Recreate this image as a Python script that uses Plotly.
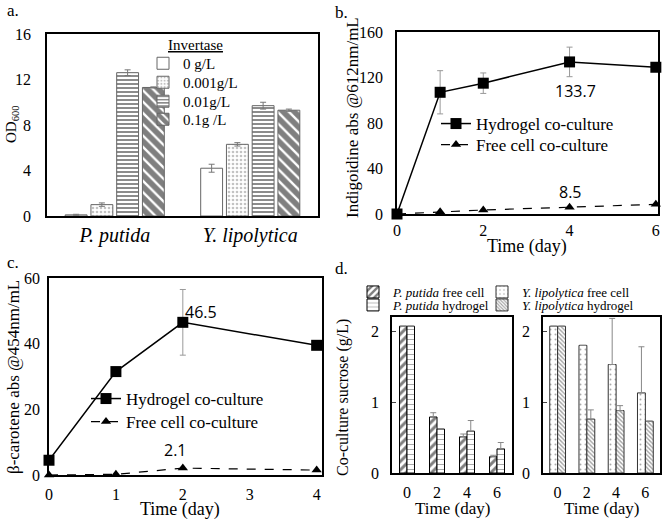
import plotly.graph_objects as go

# panel a: OD600 vs invertase
invertase_levels = ["0 g/L", "0.001g/L", "0.01g/L", "0.1g /L"]
strains = ["<i>P. putida</i>", "<i>Y. lipolytica</i>"]
od600 = [[0.1, 4.2], [1.0, 6.3], [12.6, 9.7], [11.3, 9.3]]
od600_err = [[0.05, 0.35], [0.15, 0.15], [0.25, 0.3], [0.05, 0.1]]

# panel b: indigoidine
days_b = [0, 1, 2, 4, 6]
indigo_gel = [0, 107, 115, 133.7, 129]
indigo_gel_err = [0, 19, 9, 13, 0]
indigo_free = [0, 2, 3.5, 6, 8.5]

# panel c: beta-carotene
days_c = [0, 1, 2, 4]
carotene_gel = [4.5, 31.5, 46.5, 39.5]
carotene_gel_err = [0, 0, 10, 0]
carotene_free = [0, 0.2, 2.1, 1.5]

# panel d: sucrose
days_d = ["0", "2", "4", "6"]
pp_free = [2.07, 0.79, 0.51, 0.23]
pp_free_err = [0, 0.06, 0.04, 0.02]
pp_gel = [2.07, 0.62, 0.59, 0.34]
pp_gel_err = [0, 0, 0.15, 0.09]
yl_free = [2.07, 1.8, 1.53, 1.13]
yl_free_err = [0, 0, 0.65, 0.65]
yl_gel = [2.07, 0.76, 0.88, 0.73]
yl_gel_err = [0, 0.13, 0.07, 0]

SERIF = "Liberation Serif"
SANS = "Open Sans"

W, H = 669, 520


def pxx(a):
    return a / W


def pxy(a):
    return 1 - a / H


def serif(size):
    return dict(family=SERIF, size=size, color="black")


def one_legend(x_px, top_px, size):
    return dict(x=pxx(x_px), y=pxy(top_px), xanchor="left", yanchor="top",
                bgcolor="rgba(0,0,0,0)", font=serif(size), itemwidth=30)


fig = go.Figure()

# ---- a
patterns_a = [
    dict(shape=""),
    dict(shape=".", fgcolor="#888", size=4, solidity=0.35),
    dict(shape="-", fgcolor="black", size=4, solidity=0.45),
    dict(shape="\\", fgcolor="black", size=8, solidity=0.7),
]
legends_a = ["legend", "legend10", "legend11", "legend12"]
for i, lvl in enumerate(invertase_levels):
    fig.add_bar(x=strains, y=od600[i], name=lvl, xaxis="x", yaxis="y", legend=legends_a[i],
                showlegend=True,
                marker=dict(color="white", line=dict(color="#666", width=1), pattern=patterns_a[i]),
                error_y=dict(type="data", array=od600_err[i], color="#777", thickness=1, width=3))

# ---- b
fig.add_scatter(x=days_b, y=indigo_gel, name="Hydrogel co-culture", xaxis="x2", yaxis="y2",
                legend="legend2", mode="lines+markers", cliponaxis=False,
                line=dict(color="black", width=1.5), marker=dict(symbol="square", size=11, color="black"),
                error_y=dict(type="data", array=indigo_gel_err, color="#999", thickness=1, width=3))
fig.add_scatter(x=days_b, y=indigo_free, name="Free cell co-culture", xaxis="x2", yaxis="y2",
                legend="legend3", mode="lines+markers", cliponaxis=False,
                line=dict(color="black", width=1.2, dash="dash"),
                marker=dict(symbol="triangle-up", size=9, color="black"))

# ---- c
fig.add_scatter(x=days_c, y=carotene_gel, name="Hydrogel co-culture", xaxis="x3", yaxis="y3",
                legend="legend4", mode="lines+markers", cliponaxis=False,
                line=dict(color="black", width=1.5), marker=dict(symbol="square", size=11, color="black"),
                error_y=dict(type="data", array=carotene_gel_err, color="#999", thickness=1, width=3))
fig.add_scatter(x=days_c, y=carotene_free, name="Free cell co-culture", xaxis="x3", yaxis="y3",
                legend="legend5", mode="lines+markers", cliponaxis=False,
                line=dict(color="black", width=1.2, dash="dash"),
                marker=dict(symbol="triangle-up", size=9, color="black"))

# ---- d
d_err = dict(type="data", symmetric=False, color="#888", thickness=1, width=3)
fig.add_bar(x=days_d, y=pp_free, name="<i>P. putida</i> free cell", xaxis="x4", yaxis="y4",
            legend="legend6", offset=-0.25, width=0.25,
            marker=dict(color="white", line=dict(color="black", width=1),
                        pattern=dict(shape="/", fgcolor="black", size=6, solidity=0.5)),
            error_y=dict(d_err, array=pp_free_err, arrayminus=[0] * 4))
fig.add_bar(x=days_d, y=pp_gel, name="<i>P. putida</i> hydrogel", xaxis="x4", yaxis="y4",
            legend="legend7", offset=0, width=0.25,
            marker=dict(color="white", line=dict(color="black", width=1),
                        pattern=dict(shape="-", fgcolor="#555", size=5, solidity=0.2)),
            error_y=dict(d_err, array=pp_gel_err, arrayminus=[0] * 4))
fig.add_bar(x=days_d, y=yl_free, name="<i>Y. lipolytica</i> free cell", xaxis="x5", yaxis="y5",
            legend="legend8", offset=-0.27, width=0.27,
            marker=dict(color="white", line=dict(color="#333", width=1),
                        pattern=dict(shape=".", fgcolor="#555", size=5, solidity=0.12)),
            error_y=dict(d_err, array=yl_free_err, arrayminus=[0] * 4))
fig.add_bar(x=days_d, y=yl_gel, name="<i>Y. lipolytica</i> hydrogel", xaxis="x5", yaxis="y5",
            legend="legend9", offset=0, width=0.27,
            marker=dict(color="white", line=dict(color="#333", width=1),
                        pattern=dict(shape="\\", fgcolor="#444", size=3, solidity=0.45)),
            error_y=dict(d_err, array=yl_gel_err, arrayminus=[0] * 4))

box = dict(showline=True, linecolor="black", linewidth=1.5, mirror=True, showgrid=False,
           zeroline=False, automargin=False, ticks="", tickfont=serif(16))

fig.update_layout(
    width=W, height=H, margin=dict(l=0, r=0, t=0, b=0),
    paper_bgcolor="white", plot_bgcolor="white",
    font=serif(15), showlegend=True,
    barmode="group",
    xaxis=dict(box, domain=[pxx(47), pxx(318)], anchor="y", tickfont=serif(20), ticklabelstandoff=0),
    yaxis=dict(box, domain=[pxy(216), pxy(34)], anchor="x", range=[0, 16], dtick=4,
               ticklabelstandoff=11),
    xaxis2=dict(box, domain=[pxx(397), pxx(658)], anchor="y2", range=[0, 6.05], tickvals=[0, 2, 4, 6],
                ticklabelstandoff=1),
    yaxis2=dict(box, domain=[pxy(214), pxy(32)], anchor="x2", range=[0, 160], dtick=40,
                ticklabelstandoff=9),
    xaxis3=dict(box, domain=[pxx(49), pxx(322)], anchor="y3", range=[0, 4.08], dtick=1,
                ticklabelstandoff=4),
    yaxis3=dict(box, domain=[pxy(475), pxy(278)], anchor="x3", range=[0, 60], dtick=20,
                ticklabelstandoff=4),
    xaxis4=dict(box, domain=[pxx(392), pxx(512)], anchor="y4", ticklabelstandoff=4),
    yaxis4=dict(box, domain=[pxy(473), pxy(317)], anchor="x4", range=[0, 2.2], dtick=1,
                ticks="inside", ticklen=4, ticklabelstandoff=8),
    xaxis5=dict(box, domain=[pxx(543), pxx(660)], anchor="y5", ticklabelstandoff=4),
    yaxis5=dict(box, domain=[pxy(473), pxy(317)], anchor="x5", range=[0, 2.2], dtick=1,
                ticks="inside", ticklen=4, ticklabelstandoff=8),
    bargap=0.24, bargroupgap=0.15,
    legend=one_legend(143, 47, 15),
    legend10=one_legend(143, 66, 15),
    legend11=one_legend(143, 85, 15),
    legend12=one_legend(143, 103, 15),
    legend2=one_legend(436, 106, 17),
    legend3=one_legend(436, 127, 17),
    legend4=one_legend(86, 381, 17),
    legend5=one_legend(86, 404, 17),
    legend6=one_legend(353, 277, 13),
    legend7=one_legend(353, 290, 13),
    legend8=one_legend(482, 277, 13),
    legend9=one_legend(482, 290, 13),
)

# panel letters
for txt, xp, yp in [("a.", 5, 10), ("b.", 333, 12), ("c.", 5, 262), ("d.", 333, 268)]:
    fig.add_annotation(xref="paper", yref="paper", x=pxx(xp), y=pxy(yp), text=txt,
                       xanchor="left", yanchor="middle", showarrow=False, font=serif(17))

# axis titles
titles = [
    ("<u>Invertase</u>", 195, 45, 0, 15),
    ("OD<sub>600</sub>", 12, 125, -90, 15),
    ("Indigoidine abs @612nm/mL", 353, 118, -90, 17),
    ("Time (day)", 527, 246, 0, 18),
    ("β-carotene abs @454nm/mL", 13, 377, -90, 17),
    ("Time (day)", 180, 509, 0, 18),
    ("Co-culture sucrose (g/L)", 343, 398, -90, 16),
    ("Time (day)", 452, 508, 0, 17),
    ("Time (day)", 601, 508, 0, 17),
]
for txt, xp, yp, ang, sz in titles:
    fig.add_annotation(xref="paper", yref="paper", x=pxx(xp), y=pxy(yp), text=txt,
                       textangle=ang, xanchor="center", yanchor="middle", showarrow=False,
                       font=serif(sz))

# value labels
for txt, xv, yv, ax, ay in [("133.7", 4.14, 108, "x2", "y2"), ("8.5", 4.02, 19, "x2", "y2"),
                            ("46.5", 2.27, 49.6, "x3", "y3"), ("2.1", 1.89, 7.6, "x3", "y3")]:
    fig.add_annotation(x=xv, y=yv, xref=ax, yref=ay, text=txt, showarrow=False,
                       font=dict(family=SANS, size=16, color="black"))

# the page body has an 8px default margin; drop it so the figure sits at 0,0
fig.write_html("out.html", config={"displayModeBar": False},
               post_script="document.body.style.margin='0';")
